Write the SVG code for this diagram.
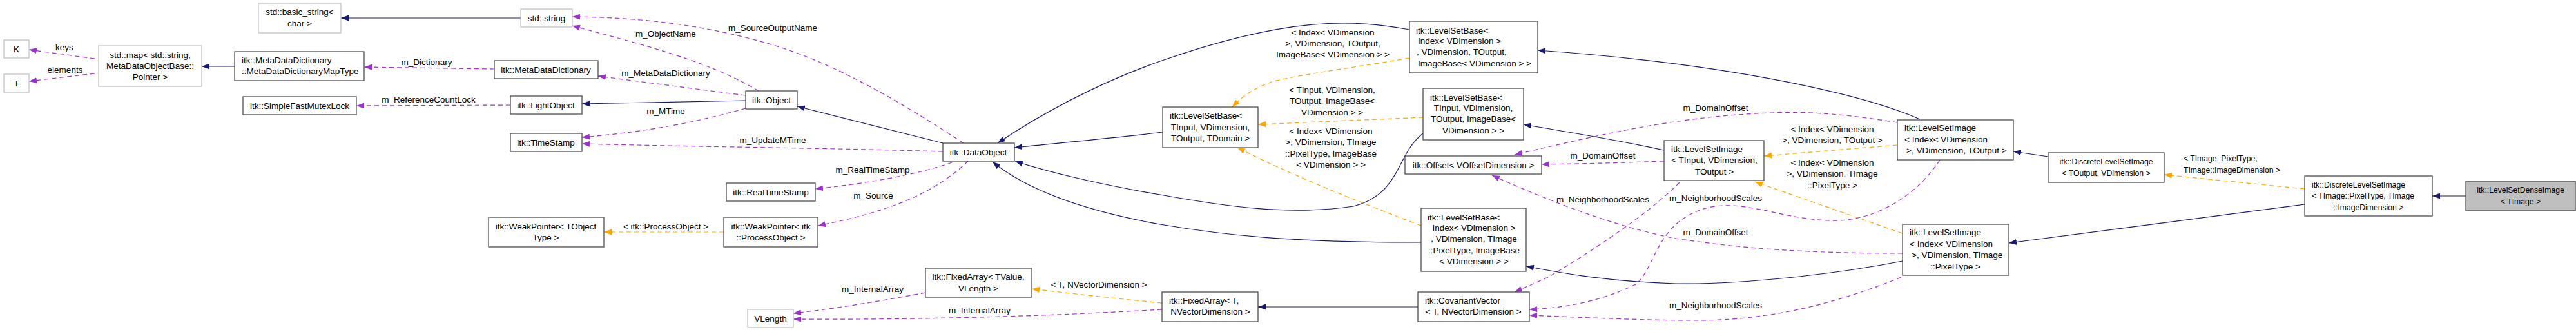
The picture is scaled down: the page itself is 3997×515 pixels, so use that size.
<svg xmlns="http://www.w3.org/2000/svg" width="3997" height="515" viewBox="0 0 3997 515">
<style>
text{font-family:"Liberation Sans",Arial,sans-serif;font-size:13.5px;fill:#000}
.m{text-anchor:middle}
.c{font-size:12.2px}
.n{fill:#fff;stroke:#404040;stroke-width:1.2}
.g{fill:#fff;stroke:#bfbfbf;stroke-width:1.2}
.inh{fill:none;stroke:#191970;stroke-width:1.2;marker-end:url(#aN)}
.use{fill:none;stroke:#9a32cd;stroke-width:1.2;stroke-dasharray:7,5;marker-end:url(#aP)}
.tpl{fill:none;stroke:#ffa500;stroke-width:1.2;stroke-dasharray:7,5;marker-end:url(#aO)}
</style>
<defs>
<marker id="aN" markerUnits="userSpaceOnUse" markerWidth="12" markerHeight="9" refX="12" refY="4.5" orient="auto"><path d="M0,0L12,4.5L0,9z" fill="#191970"/></marker>
<marker id="aP" markerUnits="userSpaceOnUse" markerWidth="12" markerHeight="9" refX="12" refY="4.5" orient="auto"><path d="M0,0L12,4.5L0,9z" fill="#9a32cd"/></marker>
<marker id="aO" markerUnits="userSpaceOnUse" markerWidth="12" markerHeight="9" refX="12" refY="4.5" orient="auto"><path d="M0,0L12,4.5L0,9z" fill="#ffa500"/></marker>
</defs>
<rect width="3997" height="515" fill="#fff"/>
<g id="edges">
<path class="inh" d="M808,28L529,28"/>
<path class="use" d="M147,91L45,77"/><text class="m" x="100" y="78">keys</text>
<path class="use" d="M147,114L45,126"/><text class="m" x="101" y="113">elements</text>
<path class="inh" d="M364,103L313,103"/>
<path class="use" d="M767,107L565,104"/><text class="m" x="662" y="101">m_Dictionary</text>
<path class="use" d="M792,163L553,164"/><text class="m" x="665" y="159">m_ReferenceCountLock</text>
<path class="inh" d="M1157,156L903,161"/>
<path class="use" d="M1177,141C1100,95 1000,70 888,40"/><text class="m" x="1033" y="57">m_ObjectName</text>
<path class="use" d="M1157,148L928,118"/><text class="m" x="1033" y="118">m_MetaDataDictionary</text>
<path class="use" d="M1157,168C1080,190 1000,205 903,213"/><text class="m" x="1033" y="177">m_MTime</text>
<path class="inh" d="M1463,222L1237,165"/>
<path class="use" d="M1495,222C1400,160 1300,100 1200,70C1100,40 1000,27 888,26"/><text class="m" x="1199" y="48">m_SourceOutputName</text>
<path class="use" d="M1463,235C1300,230 1100,228 903,223"/><text class="m" x="1199" y="222">m_UpdateMTime</text>
<path class="use" d="M1477,252C1420,272 1340,285 1265,293"/><text class="m" x="1354" y="268">m_RealTimeStamp</text>
<path class="use" d="M1502,250C1460,290 1400,325 1269,350"/><text class="m" x="1355" y="308">m_Source</text>
<path class="tpl" d="M1123,360L937,360"/><text class="m" x="1033" y="356">&lt; itk::ProcessObject &gt;</text>
<path class="use" d="M1436,454C1360,468 1300,478 1231,486"/><text class="m" x="1354" y="453">m_InternalArray</text>
<path class="use" d="M1803,480C1600,492 1400,496 1231,495"/><text class="m" x="1520" y="486">m_InternalArray</text>
<path class="tpl" d="M1803,470C1720,462 1660,455 1601,448"/><text class="m" x="1705" y="446">&lt; T, NVectorDimension &gt;</text>
<path class="inh" d="M2200,476L1952,476"/>
<path class="inh" d="M1804,205C1720,215 1640,222 1574,229"/>
<path class="inh" d="M2187,46C2100,30 2000,25 1800,95C1700,130 1610,180 1548,222"/>
<path class="inh" d="M2208,207C2165,240 2175,300 2100,320C2000,335 1900,320 1800,302C1700,285 1620,265 1575,250"/>
<path class="inh" d="M2205,376C2000,376 1900,365 1800,348C1700,330 1600,300 1540,251"/>
<path class="tpl" d="M2187,90C2100,105 2000,118 1970,128C1940,140 1925,152 1912,166"/><text class="m" x="2068" y="55">&lt; Index&lt; VDimension</text><text class="m" x="2068" y="72">&gt;, VDimension, TOutput,</text><text class="m" x="2068" y="89">ImageBase&lt; VDimension &gt; &gt;</text>
<path class="tpl" d="M2208,182L1952,193"/><text class="m" x="2067" y="144">&lt; TInput, VDimension,</text><text class="m" x="2067" y="161">TOutput, ImageBase&lt;</text><text class="m" x="2067" y="179">VDimension &gt; &gt;</text>
<path class="tpl" d="M2205,350C2100,310 2000,270 1920,229"/><text class="m" x="2065" y="208">&lt; Index&lt; VDimension</text><text class="m" x="2065" y="225">&gt;, VDimension, TImage</text><text class="m" x="2065" y="243">::PixelType, ImageBase</text><text class="m" x="2065" y="260">&lt; VDimension &gt; &gt;</text>
<path class="inh" d="M2582,233C2500,215 2420,203 2364,193"/>
<path class="use" d="M2582,250C2500,253 2450,254 2392,255"/><text class="m" x="2487" y="246">m_DomainOffset</text>
<path class="use" d="M2606,283C2560,330 2470,390 2402,430L2350,453"/><text class="m" x="2487" y="314">m_NeighborhoodScales</text>
<path class="inh" d="M2979,185C2900,150 2700,100 2386,78"/>
<path class="tpl" d="M2944,225L2737,242"/><text class="m" x="2843" y="205">&lt; Index&lt; VDimension</text><text class="m" x="2843" y="222">&gt;, VDimension, TOutput &gt;</text>
<path class="use" d="M2944,190C2880,180 2820,172 2750,175C2600,180 2480,210 2350,240"/><text class="m" x="2662" y="172">m_DomainOffset</text>
<path class="use" d="M3010,248C2970,310 2900,345 2840,342C2760,340 2700,305 2640,325C2570,350 2570,410 2540,440C2480,470 2420,478 2373,480"/><text class="m" x="2662" y="312">m_NeighborhoodScales</text>
<path class="tpl" d="M2952,362L2723,282"/><text class="m" x="2843" y="257">&lt; Index&lt; VDimension</text><text class="m" x="2843" y="274">&gt;, VDimension, TImage</text><text class="m" x="2843" y="292">::PixelType &gt;</text>
<path class="inh" d="M2952,405C2850,425 2700,442 2600,440C2500,437 2430,425 2368,413"/>
<path class="use" d="M2952,393C2800,393 2700,385 2600,370C2500,350 2400,310 2315,272"/><text class="m" x="2662" y="365">m_DomainOffset</text>
<path class="use" d="M2950,430C2850,470 2750,497 2631,497C2550,497 2450,492 2373,489"/><text class="m" x="2662" y="478">m_NeighborhoodScales</text>
<path class="inh" d="M3178,243L3124,235"/>
<path class="tpl" d="M3576,293L3358,271"/><text class="c" x="3388" y="250">&lt; TImage::PixelType,</text><text class="c" x="3388" y="268">TImage::ImageDimension &gt;</text>
<path class="inh" d="M3576,317L3117,377"/>
<path class="inh" d="M3826,304L3774,304"/>
</g>
<g id="n_basic"><rect class="g" x="401" y="5" width="128" height="46"/><text class="m" x="465" y="23">std::basic_string&lt;</text><text class="m" x="465" y="41">char &gt;</text></g>
<g id="n_K"><rect class="g" x="6" y="62" width="39" height="28"/><text class="m" x="25.5" y="81">K</text></g>
<g id="n_T"><rect class="g" x="6" y="115" width="39" height="28"/><text class="m" x="25.5" y="134">T</text></g>
<g id="n_map"><rect class="g" x="153" y="71" width="160" height="63"/><text class="m" x="233" y="90">std::map&lt; std::string,</text><text class="m" x="233" y="107">MetaDataObjectBase::</text><text class="m" x="233" y="124">Pointer &gt;</text></g>
<g id="n_maptype"><rect class="n" x="364" y="80" width="201" height="45"/><text x="375" y="98">itk::MetaDataDictionary</text><text x="375" y="115">::MetaDataDictionaryMapType</text></g>
<g id="n_mutex"><rect class="n" x="377" y="150" width="176" height="28"/><text class="m" x="465" y="169">itk::SimpleFastMutexLock</text></g>
<g id="n_string"><rect class="g" x="808" y="14" width="80" height="28"/><text class="m" x="848" y="33">std::string</text></g>
<g id="n_mdd"><rect class="n" x="767" y="94" width="161" height="28"/><text class="m" x="847" y="113">itk::MetaDataDictionary</text></g>
<g id="n_light"><rect class="n" x="792" y="149" width="111" height="28"/><text class="m" x="847" y="168">itk::LightObject</text></g>
<g id="n_ts"><rect class="n" x="792" y="207" width="111" height="28"/><text class="m" x="847" y="226">itk::TimeStamp</text></g>
<g id="n_wp"><rect class="n" x="758" y="337" width="179" height="46"/><text class="m" x="847" y="356">itk::WeakPointer&lt; TObject</text><text class="m" x="847" y="373">Type &gt;</text></g>
<g id="n_obj"><rect class="n" x="1157" y="141" width="80" height="28"/><text class="m" x="1197" y="160">itk::Object</text></g>
<g id="n_rts"><rect class="n" x="1127" y="284" width="138" height="28"/><text class="m" x="1196" y="303">itk::RealTimeStamp</text></g>
<g id="n_wpp"><rect class="n" x="1123" y="337" width="146" height="46"/><text class="m" x="1196" y="356">itk::WeakPointer&lt; itk</text><text class="m" x="1196" y="373">::ProcessObject &gt;</text></g>
<g id="n_vlen"><rect class="g" x="1160" y="480" width="71" height="28"/><text class="m" x="1195.5" y="499">VLength</text></g>
<g id="n_do"><rect class="n" x="1463" y="222" width="111" height="28"/><text class="m" x="1518" y="241">itk::DataObject</text></g>
<g id="n_fav"><rect class="n" x="1436" y="416" width="165" height="45"/><text class="m" x="1518" y="434">itk::FixedArray&lt; TValue,</text><text class="m" x="1518" y="452">VLength &gt;</text></g>
<g id="n_lsbd"><rect class="n" x="1804" y="166" width="148" height="63"/><text x="1815" y="184">itk::LevelSetBase&lt;</text><text class="m" x="1878" y="202">TInput, VDimension,</text><text class="m" x="1878" y="219">TOutput, TDomain &gt;</text></g>
<g id="n_lsbtop"><rect class="n" x="2187" y="33" width="199" height="80"/><text x="2197" y="52">itk::LevelSetBase&lt;</text><text x="2200" y="68"> Index&lt; VDimension &gt;</text><text x="2198" y="85">, VDimension, TOutput,</text><text x="2200" y="103"> ImageBase&lt; VDimension &gt; &gt;</text></g>
<g id="n_lsbi"><rect class="n" x="2208" y="137" width="156" height="80"/><text x="2219" y="156">itk::LevelSetBase&lt;</text><text class="m" x="2286" y="172">TInput, VDimension,</text><text class="m" x="2286" y="189">TOutput, ImageBase&lt;</text><text class="m" x="2286" y="207">VDimension &gt; &gt;</text></g>
<g id="n_off"><rect class="n" x="2180" y="242" width="212" height="28"/><text class="m" x="2286" y="261">itk::Offset&lt; VOffsetDimension &gt;</text></g>
<g id="n_lsbp"><rect class="n" x="2205" y="323" width="163" height="98"/><text x="2215" y="342">itk::LevelSetBase&lt;</text><text class="m" x="2287" y="358">Index&lt; VDimension &gt;</text><text class="m" x="2287" y="375">, VDimension, TImage</text><text class="m" x="2287" y="393">::PixelType, ImageBase</text><text class="m" x="2287" y="410">&lt; VDimension &gt; &gt;</text></g>
<g id="n_fat"><rect class="n" x="1803" y="453" width="149" height="46"/><text x="1814" y="471">itk::FixedArray&lt; T,</text><text class="m" x="1878" y="488">NVectorDimension &gt;</text></g>
<g id="n_cov"><rect class="n" x="2200" y="453" width="173" height="46"/><text x="2211" y="471">itk::CovariantVector</text><text class="m" x="2286" y="488">&lt; T, NVectorDimension &gt;</text></g>
<g id="n_lsi"><rect class="n" x="2582" y="218" width="155" height="62"/><text x="2593" y="236">itk::LevelSetImage</text><text class="m" x="2660" y="253">&lt; TInput, VDimension,</text><text class="m" x="2660" y="271">TOutput &gt;</text></g>
<g id="n_lsit"><rect class="n" x="2944" y="186" width="180" height="62"/><text x="2955" y="203">itk::LevelSetImage</text><text x="2955" y="221">&lt; Index&lt; VDimension</text><text x="2958" y="238"> &gt;, VDimension, TOutput &gt;</text></g>
<g id="n_lsip"><rect class="n" x="2952" y="348" width="165" height="79"/><text x="2963" y="365">itk::LevelSetImage</text><text x="2963" y="383">&lt; Index&lt; VDimension</text><text x="2966" y="400"> &gt;, VDimension, TImage</text><text class="m" x="3034" y="418">::PixelType &gt;</text></g>
<g id="n_dlo"><rect class="n" x="3178" y="237" width="180" height="46"/><text class="m c" x="3268" y="255">itk::DiscreteLevelSetImage</text><text class="m c" x="3268" y="273">&lt; TOutput, VDimension &gt;</text></g>
<g id="n_dlt"><rect class="n" x="3576" y="273" width="198" height="62"/><text class="c" x="3587" y="291">itk::DiscreteLevelSetImage</text><text class="c" x="3587" y="308">&lt; TImage::PixelType, TImage</text><text class="m c" x="3675" y="326">::ImageDimension &gt;</text></g>
<g id="n_dense"><rect x="3826" y="281" width="170" height="46" fill="#bfbfbf" stroke="#404040" stroke-width="1.2"/><text class="m c" x="3911" y="299">itk::LevelSetDenseImage</text><text class="m c" x="3911" y="317">&lt; TImage &gt;</text></g>
</svg>
